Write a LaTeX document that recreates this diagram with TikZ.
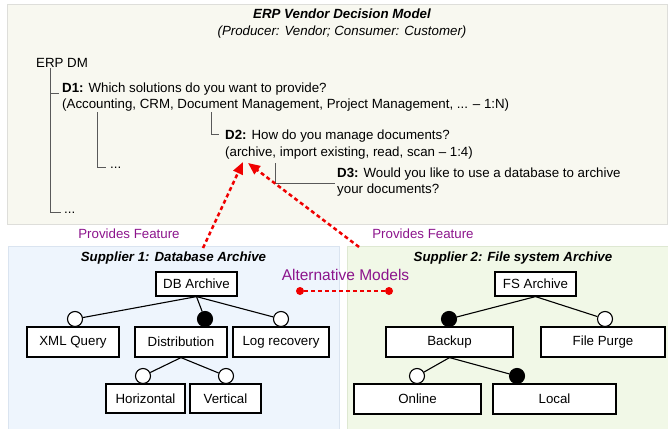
\documentclass[tikz,border=0pt]{standalone}
\usepackage{fontspec}
\setmainfont{Liberation Sans}
\usetikzlibrary{arrows.meta}
\definecolor{toppanel}{RGB}{248,248,240}
\definecolor{topborder}{RGB}{222,222,218}
\definecolor{sonepanel}{RGB}{238,245,253}
\definecolor{soneborder}{RGB}{218,228,240}
\definecolor{stwopanel}{RGB}{241,248,231}
\definecolor{stwoborder}{RGB}{222,232,210}
\definecolor{purp}{RGB}{140,20,140}
\definecolor{redd}{RGB}{240,0,0}
\begin{document}
\begin{tikzpicture}[x=1pt,y=-1pt,
  every node/.style={font=\fontsize{13.3}{16}\selectfont},
  txt/.style={anchor=base west, inner sep=0pt},
  ctxt/.style={anchor=base, inner sep=0pt},
  feat/.style={draw=black, fill=white, line width=1.2pt, minimum height=30pt, inner sep=0pt},
  optc/.style={circle, draw=black, fill=white, line width=1.1pt, minimum size=15pt, inner sep=0pt},
  mandc/.style={optc, fill=black},
  link/.style={line width=1.1pt, draw=black},
  treeline/.style={line width=1pt, draw=black!65},
  reddash/.style={draw=redd, line width=2.5pt, dash pattern=on 4pt off 3pt},
  purptext/.style={text=purp}
]
\useasboundingbox (0,0) rectangle (668,428);

% panels
\draw[fill=toppanel, draw=topborder, line width=0.8pt] (7,4) rectangle (667,224);
\draw[fill=sonepanel, draw=soneborder, line width=0.8pt] (8,246) rectangle (339,430);
\draw[fill=stwopanel, draw=stwoborder, line width=0.8pt] (347,246) rectangle (668,430);

% top panel texts
\node[ctxt, font=\fontsize{13.3}{16}\selectfont\bfseries\itshape] (title) at (342,19) {ERP Vendor Decision Model};
\node[ctxt, font=\fontsize{13.3}{16}\selectfont\itshape] (subtitle) at (342,36) {(Producer: Vendor; Consumer: Customer)};
\node[txt] (erp) at (36,67) {ERP DM};
\node[txt] (d1a) at (62,92) {\textbf{D1:} Which solutions do you want to provide?};
\node[txt] (d1b) at (62,108) {(Accounting, CRM, Document Management, Project Management, ... – 1:N)};
\node[txt] (d2a) at (225,139) {\textbf{D2:} How do you manage documents?};
\node[txt] (d2b) at (225,156) {(archive, import existing, read, scan – 1:4)};
\node[txt] (d3a) at (337,177) {\textbf{D3:} Would you like to use a database to archive};
\node[txt] (d3b) at (337,193) {your documents?};
\node[txt] (dotsa) at (110,168) {...};
\node[txt] (dotsb) at (64,213) {...};

% tree lines
\coordinate (t0) at (50,68);
\coordinate (t1) at (59,93);
\coordinate (t2) at (61,212);
\draw[treeline] (t0) |- (t1);
\draw[treeline] (t0) |- (t2);
\coordinate (u0) at (97,112);
\coordinate (u1) at (106,167);
\draw[treeline] (u0) |- (u1);
\coordinate (v0) at (211,112);
\coordinate (v1) at (219,134);
\draw[treeline] (v0) |- (v1);
\coordinate (w0) at (275,163);
\coordinate (w1) at (335,183);
\draw[treeline] (w0) |- (w1);

% labels
\node[ctxt, purptext] (pf1) at (129,238) {Provides Feature};
\node[ctxt, purptext] (pf2) at (423,238) {Provides Feature};
\node[ctxt, purptext, font=\fontsize{15.5}{18}\selectfont] (alt) at (345.5,280.5) {Alternative Models};
\node[ctxt, font=\fontsize{13.3}{16}\selectfont\bfseries\itshape] (s1title) at (173.5,261) {Supplier 1: Database Archive};
\node[ctxt, font=\fontsize{13.3}{16}\selectfont\bfseries\itshape] (s2title) at (513,261) {Supplier 2: File system Archive};

% supplier 1 feature model
\node[feat, minimum width=81pt, minimum height=24pt] (dba) at (196.5,284) {DB Archive};
\node[feat, minimum width=92pt] (xml) at (73,342) {XML Query};
\node[feat, minimum width=92pt] (dist) at (181,342) {Distribution};
\node[feat, minimum width=96pt] (logr) at (281,342) {Log recovery};
\node[feat, minimum width=79pt, minimum height=29pt] (hor) at (145.5,398.5) {Horizontal};
\node[feat, minimum width=71pt, minimum height=29pt] (ver) at (225.5,398.5) {Vertical};
\node[optc] (cxml) at (75,319) {};
\node[mandc] (cdist) at (205,319) {};
\node[optc] (clog) at (281,319) {};
\node[optc] (chor) at (143,376) {};
\node[optc] (cver) at (226,376) {};
\draw[link] (dba.south) -- (cxml);
\draw[link] (dba.south) -- (cdist);
\draw[link] (dba.south) -- (clog);
\draw[link] (dist.south) -- (chor);
\draw[link] (dist.south) -- (cver);

% supplier 2 feature model
\node[feat, minimum width=81pt, minimum height=24pt] (fsa) at (535.5,284) {FS Archive};
\node[feat, minimum width=127pt] (backup) at (449.5,342) {Backup};
\node[feat, minimum width=124pt] (purge) at (603,342) {File Purge};
\node[feat, minimum width=127pt] (online) at (417.5,399) {Online};
\node[feat, minimum width=123pt] (local) at (554.5,399) {Local};
\node[mandc] (cbackup) at (449,319) {};
\node[optc] (cpurge) at (605,319) {};
\node[optc] (conline) at (417,376) {};
\node[mandc] (clocal) at (517,376) {};
\draw[link] (fsa.south) -- (cbackup);
\draw[link] (fsa.south) -- (cpurge);
\draw[link] (backup.south) -- (conline);
\draw[link] (backup.south) -- (clocal);

% red dashed connectors
\coordinate (a1s) at (203,248);
\coordinate (a1e) at (243,162);
\coordinate (a2s) at (359,247);
\coordinate (a2e) at (248,163);
\draw[reddash, -{Triangle[length=12pt,width=10pt]}] (a1s) -- (a1e);
\draw[reddash, -{Triangle[length=12pt,width=10pt]}] (a2s) -- (a2e);
\node[circle, fill=redd, inner sep=0pt, minimum size=8pt] (alta) at (300,291) {};
\node[circle, fill=redd, inner sep=0pt, minimum size=8pt] (altb) at (389,291) {};
\draw[reddash] (alta) -- (altb);
\end{tikzpicture}
\end{document}
